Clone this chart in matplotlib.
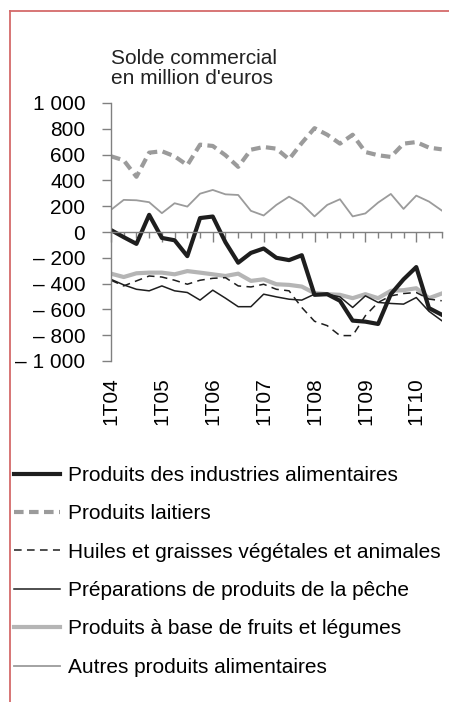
import matplotlib
matplotlib.use('Agg')
import matplotlib.pyplot as plt
from matplotlib.lines import Line2D
from matplotlib.ticker import FixedLocator

plt.rcParams['font.family'] = ['Liberation Sans', 'DejaVu Sans']

# quarters 1T04 .. 3T10
quarters = [f"{q}T{y:02d}" for y in range(4, 11) for q in range(1, 5)][:27]
year_labels = ["1T04", "1T05", "1T06", "1T07", "1T08", "1T09", "1T10"]

industries = [15, -40, -92, 133, -46, -64, -187, 108, 120, -80, -238, -162, -128, -200,
              -218, -180, -487, -482, -533, -687, -695, -713, -482, -367, -272, -590, -641]
laitiers = [587, 556, 428, 615, 626, 587, 518, 677, 667, 595, 505, 638, 659, 646,
            564, 690, 805, 754, 685, 754, 620, 595, 582, 685, 697, 654, 641]
huiles = [-374, -418, -379, -341, -349, -374, -405, -374, -359, -354, -418, -426, -405, -444,
          -456, -585, -692, -726, -803, -803, -649, -546, -495, -477, -469, -520, -533]
peche = [-367, -410, -444, -456, -418, -456, -469, -528, -451, -513, -579, -579, -482, -503,
         -521, -528, -482, -482, -503, -585, -495, -546, -554, -559, -508, -615, -687]
fruits = [-323, -349, -320, -315, -315, -328, -303, -315, -328, -341, -323, -379, -367, -405,
          -410, -423, -474, -482, -487, -513, -482, -513, -456, -451, -436, -513, -477]
autres = [172, 249, 246, 231, 146, 223, 197, 297, 326, 292, 287, 164, 128, 210,
          274, 218, 121, 210, 254, 121, 144, 228, 295, 179, 282, 236, 167]

y_ticks = [1000, 800, 600, 400, 200, 0, -200, -400, -600, -800, -1000]


def fmt(v):
    s = f"{abs(v):,}".replace(",", " ")
    return ("\u2013 " + s) if v < 0 else s


W, H = 449, 702
fig = plt.figure(figsize=(W / 100, H / 100), dpi=100)
ax = fig.add_axes([111 / W, 1 - 361 / H, (441.7 - 111) / W, (361 - 103) / H])

x = list(range(len(quarters)))
grey_axis = '#808080'

l_autres, = ax.plot(x, autres, color='#9b9b9b', lw=1.3, label='Autres produits alimentaires')
l_fruits, = ax.plot(x, fruits, color='#b5b5b5', lw=3.0, label='Produits à base de fruits et légumes')
l_lait, = ax.plot(x, laitiers, color='#9b9b9b', lw=3.0, dashes=(2.3, 1.3),
                  label='Produits laitiers')
l_huiles, = ax.plot(x, huiles, color='#1e1e1e', lw=1.1, dashes=(5, 3.5),
                    label='Huiles et graisses végétales et animales')
l_peche, = ax.plot(x, peche, color='#1e1e1e', lw=1.1, label='Préparations de produits de la pêche')
l_ind, = ax.plot(x, industries, color='#1e1e1e', lw=3.0, label='Produits des industries alimentaires')

ax.set_xlim(0, len(quarters) - 1)
ax.set_ylim(-1000, 1000)

for s in ['top', 'right']:
    ax.spines[s].set_visible(False)
ax.spines['left'].set_color(grey_axis)
ax.spines['left'].set_linewidth(1.0)
ax.spines['bottom'].set_position(('data', 0))
ax.spines['bottom'].set_color(grey_axis)
ax.spines['bottom'].set_linewidth(1.0)

ax.set_yticks(y_ticks)
ax.set_yticklabels([fmt(v) for v in y_ticks], fontsize=15)
ax.tick_params(axis='y', length=6.5, width=1.0, color=grey_axis, pad=12)

year_pos = [quarters.index(q) for q in year_labels]
ax.xaxis.set_major_locator(FixedLocator(year_pos))
ax.xaxis.set_minor_locator(FixedLocator([i for i in x if i not in year_pos]))
ax.tick_params(axis='x', which='major', length=7, width=1.0, color=grey_axis, labelbottom=False)
ax.tick_params(axis='x', which='minor', length=4.3, width=1.0, color=grey_axis)

sec = ax.secondary_xaxis(0)
sec.set_xticks(year_pos)
sec.set_xticklabels(year_labels, rotation=90, fontsize=15)
sec.tick_params(length=0, pad=12)
sec.spines['bottom'].set_visible(False)

fig.text(111 / W, 1 - 64 / H, "Solde commercial", fontsize=15, va='baseline', ha='left',
         color='#222222')
fig.text(111 / W, 1 - 84 / H, "en million d'euros", fontsize=15, va='baseline', ha='left',
         color='#222222')

handles = [l_ind, l_lait, l_huiles, l_peche, l_fruits, l_autres]
fig.legend(handles=handles, labels=[h.get_label() for h in handles],
           loc='upper left', bbox_to_anchor=(14 / W, 1 - 466 / H),
           frameon=False, fontsize=15, handlelength=2.2, handletextpad=0.4,
           labelspacing=0.93, borderaxespad=0, borderpad=0)

# red frame
border = '#d46a6a'
fig.add_artist(Line2D([10 / W, 10 / W], [0, 1 - 11 / H], color=border, lw=1.3,
                      transform=fig.transFigure))
fig.add_artist(Line2D([10 / W, 1], [1 - 11 / H, 1 - 11 / H], color=border, lw=1.3,
                      transform=fig.transFigure))

fig.savefig('out.png', dpi=100)
